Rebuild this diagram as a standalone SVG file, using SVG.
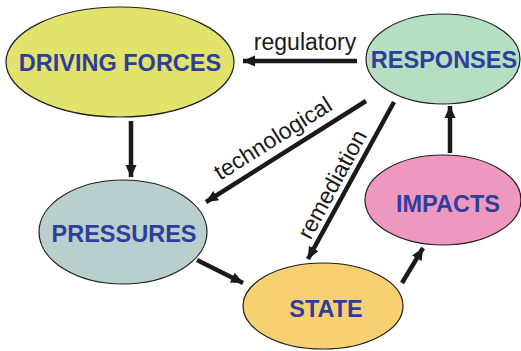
<svg xmlns="http://www.w3.org/2000/svg" width="521" height="351" viewBox="0 0 521 351">
  <style>
    .node ellipse { stroke: #1f1f1f; stroke-width: 1.2; }
    .node text { font-family: "Liberation Sans", Arial, sans-serif; font-weight: bold; font-size: 23.5px; fill: #2f3e9b; text-anchor: middle; }
    .link { stroke: #1a1a1a; stroke-width: 4.5; fill: none; marker-end: url(#head); }
    .label { font-family: "Liberation Sans", Arial, sans-serif; font-size: 23px; fill: #1a1a1a; text-anchor: middle; }
  </style>
  <defs>
    <marker id="head" markerUnits="userSpaceOnUse" markerWidth="14" markerHeight="14" viewBox="0 0 14 14" refX="12" refY="7" orient="auto">
      <path d="M0,1.5 L12.5,7 L0,12.5 Z" fill="#1a1a1a"/>
    </marker>
  </defs>
  <rect width="521" height="351" fill="#ffffff"/>

  <g id="connectors">
    <!-- regulatory -->
    <line class="link" x1="357" y1="61" x2="243" y2="61"/>
    <text class="label" x="305" y="50">regulatory</text>
    <!-- driving forces to pressures -->
    <line class="link" x1="131" y1="121" x2="131" y2="177"/>
    <!-- technological -->
    <line class="link" x1="366" y1="101" x2="206" y2="202"/>
    <text class="label" transform="translate(277,145) rotate(-32.3)">technological</text>
    <!-- remediation -->
    <line class="link" x1="394" y1="102" x2="308" y2="259"/>
    <text class="label" transform="translate(339,188) rotate(-61.6)">remediation</text>
    <!-- pressures to state -->
    <line class="link" x1="197" y1="260" x2="243" y2="283"/>
    <!-- state to impacts -->
    <line class="link" x1="402" y1="283" x2="423" y2="248"/>
    <!-- impacts to responses -->
    <line class="link" x1="450" y1="153" x2="450" y2="106"/>
  </g>

  <g id="driving-forces" class="node">
    <ellipse cx="120" cy="62" rx="114" ry="55" fill="#e1e36c"/>
    <text x="120" y="71">DRIVING FORCES</text>
  </g>
  <g id="responses" class="node">
    <ellipse cx="443" cy="59" rx="77" ry="45" fill="#b6dec2"/>
    <text x="444" y="68">RESPONSES</text>
  </g>
  <g id="pressures" class="node">
    <ellipse cx="123" cy="232" rx="84" ry="52" fill="#b9cfcd"/>
    <text x="124" y="242">PRESSURES</text>
  </g>
  <g id="impacts" class="node">
    <ellipse cx="443" cy="200" rx="78" ry="45" fill="#ee98bf"/>
    <text x="448" y="212">IMPACTS</text>
  </g>
  <g id="state" class="node">
    <ellipse cx="323" cy="306" rx="80" ry="43" fill="#f7d171"/>
    <text x="326" y="317">STATE</text>
  </g>
</svg>
